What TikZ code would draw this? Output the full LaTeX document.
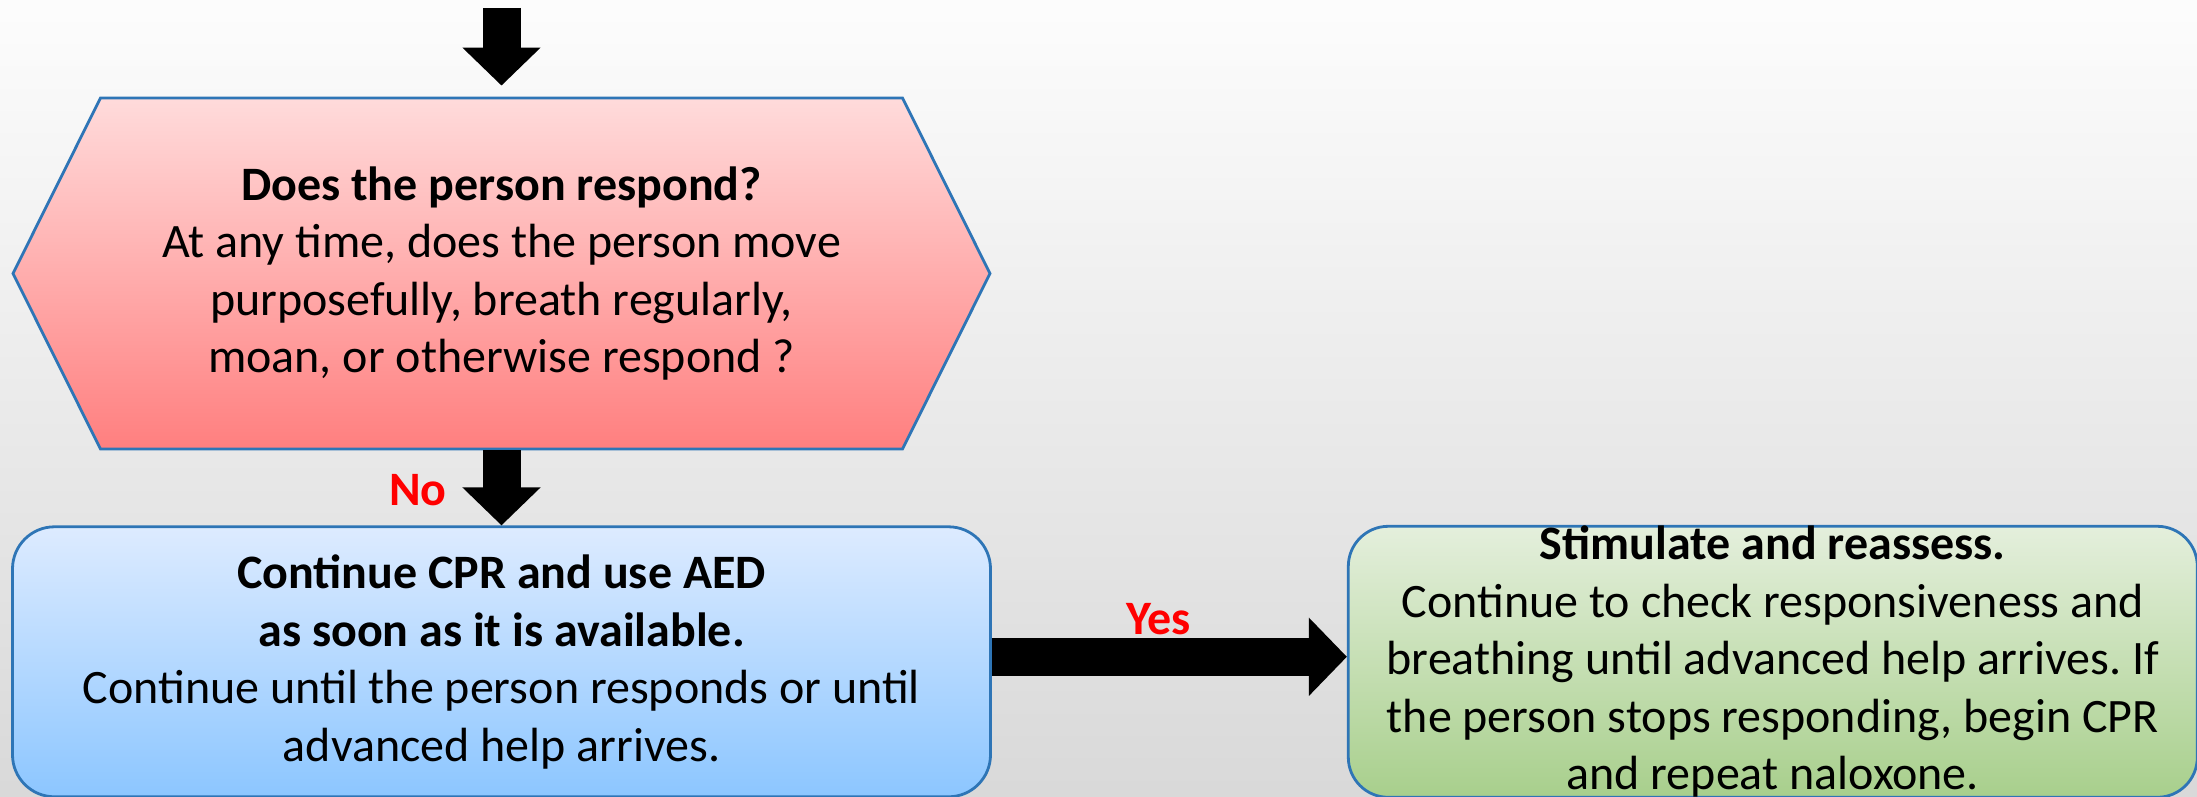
\documentclass[tikz,border=0pt]{standalone}
\usepackage{fontspec}
\setmainfont{Carlito}
\usetikzlibrary{positioning,shapes.symbols,arrows.meta}

\definecolor{edgeblue}{HTML}{2E75B6}
\definecolor{asktop}{HTML}{FFDBDB}
\definecolor{askbot}{HTML}{FF7F7F}
\definecolor{cprtop}{HTML}{DDEBFF}
\definecolor{cprbot}{HTML}{8CC6FF}
\definecolor{oktop}{HTML}{E4EFDC}
\definecolor{okbot}{HTML}{A8CF8C}
\newcommand{\flowfont}{\fontsize{48pt}{57.5pt}\selectfont\frenchspacing}

\begin{document}
\begin{tikzpicture}[x=1pt, y=1pt,
node distance = 75pt and 355pt,
question/.style={signal, signal to=west and east, signal pointer angle=127, draw=edgeblue, line width=2.8pt, top color=asktop, bottom color=askbot, minimum width=977pt, minimum height=351pt, inner sep=0pt, align=center, font=\flowfont},
action/.style={rectangle, rounded corners=42pt, draw=edgeblue, line width=2.8pt, top color=cprtop, bottom color=cprbot, minimum width=978pt, minimum height=270pt, inner sep=0pt, align=center, font=\flowfont},
outcome/.style={rectangle, rounded corners=40pt, draw=edgeblue, line width=2.8pt, top color=oktop, bottom color=okbot, minimum width=849pt, minimum height=271pt, inner sep=0pt},
flow/.style={line width=38pt, black, -{Triangle[length=38pt, width=76pt]}},
answer/.style={text=red, inner sep=0pt, outer sep=0pt, font=\flowfont\bfseries}]

\useasboundingbox (0,0) rectangle (2197,797);
\shade[top color=white!99!black, bottom color=white!85!black] (0,0) rectangle (2197,797);

\coordinate (start) at (501.5,789);
\node[question] (ask) at (501.5,523.5) {\textbf{Does the person respond?}\\At any time, does the person move\\purposefully, breath regularly,\\moan, or otherwise respond ?};
\node[action] (cpr) [below = of ask] {\textbf{Continue CPR and use AED}\\\textbf{as soon as it is available.}\\Continue until the person responds or until\\advanced help arrives.};
\node[outcome] (reassess) [right = of cpr] {};
\node[align=center, font=\flowfont] (reassesstext) at (reassess) {\textbf{Stimulate and reassess.}\\Continue to check responsiveness and\\breathing until advanced help arrives. If\\the person stops responding, begin CPR\\and repeat naloxone.};

\draw[flow, shorten >=11pt] (start) -- (ask.north);
\draw[flow] (ask.south) -- (cpr.north) node[answer, pos=0.53, left=55pt] {No};
\draw[flow] ([yshift=5pt]cpr.east) -- ([yshift=5pt]reassess.west) node[answer, pos=0.47, above=22pt] {Yes};
\end{tikzpicture}
\end{document}
